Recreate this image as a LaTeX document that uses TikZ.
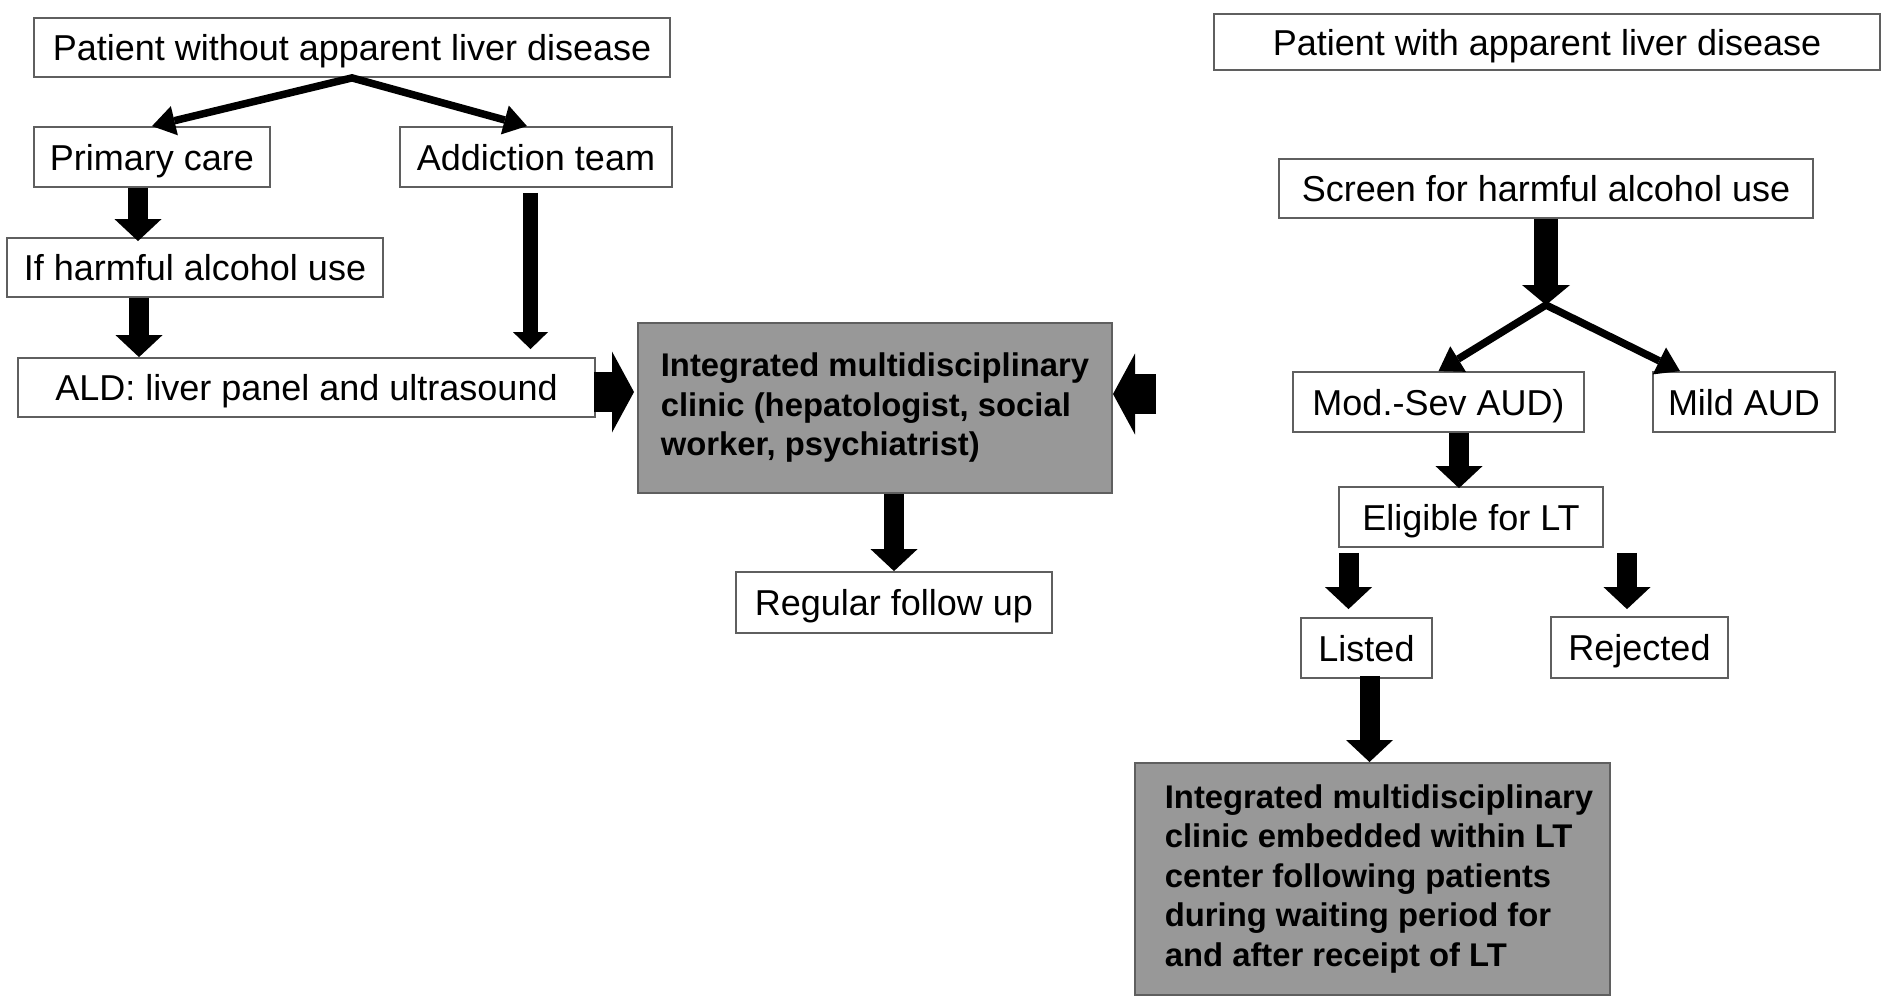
\documentclass[tikz,border=0pt]{standalone}
\usepackage{fontspec}
\setmainfont{Liberation Sans}
\usetikzlibrary{arrows.meta,calc}
\definecolor{boxline}{RGB}{95,95,95}
\definecolor{clinicfill}{RGB}{152,152,152}
\newcommand{\indentln}{\hspace*{13pt}}
\tikzset{
  box/.style={draw=boxline, line width=1.8pt, fill=white, inner sep=0pt, text height=26pt, text depth=0pt, font=\fontsize{36}{43}\selectfont},
  graybox/.style={draw=boxline, line width=2pt, fill=clinicfill, inner sep=0pt, align=left, font=\fontsize{32.8}{39.5}\selectfont\bfseries},
  bigarrow/.style={line width=20pt, -{Triangle[width=47pt,length=22pt,line width=0pt]}},
  midarrow/.style={line width=15pt, -{Triangle[width=35pt,length=17pt,line width=0pt]}},
  widearrow/.style={line width=40pt, -{Triangle[width=81pt,length=22pt,line width=0pt]}},
  forkarrow/.style={line width=7.5pt, {Triangle[width=30pt,length=23pt,line width=0pt]}-{Triangle[width=30pt,length=23pt,line width=0pt]}},
}
\begin{document}
\begin{tikzpicture}[x=1pt,y=-1pt]
\fill[white] (0,0) rectangle (1888,1004);
\useasboundingbox (0,0) rectangle (1888,1004);

% left branch
\node[box, minimum width=636pt, minimum height=59pt] (top1) at (352,47.5) {Patient without apparent liver disease};
\node[box, minimum width=236pt, minimum height=60pt] (pc) at (152,157) {Primary care};
\node[box, minimum width=272pt, minimum height=60pt] (at) at (536,157) {Addiction team};
\node[box, minimum width=376pt, minimum height=59pt] (ih) at (195,267.5) {If harmful alcohol use};
\node[box, minimum width=577pt, minimum height=59pt] (ald) at (306.5,387.5) {ALD: liver panel and ultrasound};
\node[graybox, minimum width=474pt, minimum height=170pt] (clinic1) at (875,408) {Integrated multidisciplinary\\clinic (hepatologist, social\\worker, psychiatrist)};
\node[box, minimum width=316pt, minimum height=61pt] (reg) at (894,602.5) {Regular follow up};

% right branch
\node[box, minimum width=666pt, minimum height=56pt] (top2) at (1547,42) {Patient with apparent liver disease};
\node[box, minimum width=534pt, minimum height=59pt] (screen) at (1546,188.5) {Screen for harmful alcohol use};
\node[box, minimum width=291pt, minimum height=60pt] (modsev) at (1438.5,402) {Mod.-Sev AUD)};
\node[box, minimum width=182pt, minimum height=60pt] (mild) at (1744,402) {Mild AUD};
\node[box, minimum width=264pt, minimum height=60pt] (elig) at (1471,517) {Eligible for LT};
\node[box, minimum width=131pt, minimum height=60pt] (listed) at (1366.5,648) {Listed};
\node[box, minimum width=177pt, minimum height=61pt] (rej) at (1639.5,647.5) {Rejected};
\node[graybox, minimum width=475pt, minimum height=232pt] (clinic2) at (1372.5,879) {\indentln Integrated multidisciplinary\\\indentln clinic embedded within LT\\\indentln center following patients\\\indentln during waiting period for\\\indentln and after receipt of LT};

\coordinate (freeR) at (1156,394);
\coordinate (fork2) at (1546,305);

% left connectors
\draw[forkarrow] (pc.north) -- (top1.south) -- ($(at.north)+(-9,0)$);
\draw[bigarrow] ($(pc.south)+(-14,0)$) -- ($(pc.south |- ih.north)+(-14,4)$);
\draw[bigarrow] ($(ih.south)+(-56,0)$) -- ($(ih.south |- ald.north)+(-56,0)$);
\draw[midarrow] ($(at.south)+(-5.5,5)$) -- ($(at.south |- ald.north)+(-5.5,-8)$);
\draw[widearrow] ($(ald.east)+(-2,4.5)$) -- ($(ald.east -| clinic1.west)+(-3,4.5)$);
\draw[widearrow] (freeR) -- (freeR -| clinic1.east);
\draw[bigarrow] (reg.north |- clinic1.south) -- (reg.north);

% right connectors
\draw[line width=24pt, -{Triangle[width=48pt,length=20pt,line width=0pt]}] (screen.south) -- (fork2);
\draw[forkarrow] (modsev.north) -- (fork2) -- ($(mild.north)+(-64,0)$);
\draw[bigarrow] ($(elig.north |- modsev.south)+(-12,0)$) -- ($(elig.north)+(-12,2)$);
\draw[bigarrow] ($(listed.north |- elig.south)+(-18,5)$) -- ($(listed.north)+(-18,-8)$);
\draw[bigarrow] ($(rej.north |- elig.south)+(-12.5,5)$) -- ($(rej.north)+(-12.5,-7)$);
\draw[bigarrow] ($(listed.south)+(3,-3)$) -- ($(listed.south |- clinic2.north)+(3,0)$);
\end{tikzpicture}
\end{document}
